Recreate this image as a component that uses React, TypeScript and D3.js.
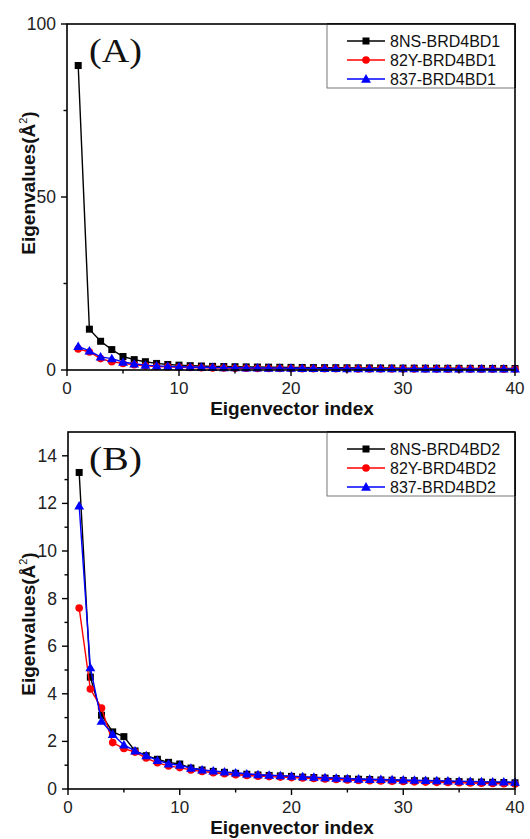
import React from "react";
import * as d3 from "d3";

const indices = d3.range(1, 41);

const seriesNamesA = ["8NS-BRD4BD1", "82Y-BRD4BD1", "837-BRD4BD1"];
const seriesNamesB = ["8NS-BRD4BD2", "82Y-BRD4BD2", "837-BRD4BD2"];

const blackA = [88, 11.8, 8.3, 5.9, 3.9, 3.0, 2.4, 1.9, 1.6, 1.4, 1.25, 1.15, 1.05, 1.0, 0.95, 0.9, 0.85, 0.82, 0.79, 0.76, 0.73, 0.7, 0.68, 0.66, 0.64, 0.62, 0.6, 0.58, 0.57, 0.55, 0.54, 0.53, 0.52, 0.5, 0.49, 0.48, 0.47, 0.46, 0.45, 0.44];
const redA = [6.1, 5.2, 3.3, 2.4, 1.9, 1.5, 1.2, 1.0, 0.9, 0.8, 0.72, 0.66, 0.6, 0.56, 0.52, 0.49, 0.46, 0.44, 0.42, 0.4, 0.38, 0.37, 0.35, 0.34, 0.33, 0.32, 0.31, 0.3, 0.29, 0.28, 0.27, 0.27, 0.26, 0.25, 0.25, 0.24, 0.23, 0.23, 0.22, 0.22];
const blueA = [6.8, 5.5, 3.8, 3.3, 2.3, 1.8, 1.4, 1.2, 1.05, 0.95, 0.86, 0.8, 0.74, 0.7, 0.66, 0.62, 0.59, 0.56, 0.54, 0.52, 0.5, 0.48, 0.46, 0.45, 0.43, 0.42, 0.41, 0.4, 0.39, 0.38, 0.37, 0.36, 0.35, 0.34, 0.33, 0.33, 0.32, 0.31, 0.31, 0.3];

const blackB = [13.3, 4.7, 3.1, 2.4, 2.2, 1.6, 1.4, 1.25, 1.12, 1.05, 0.88, 0.8, 0.74, 0.7, 0.66, 0.62, 0.59, 0.57, 0.55, 0.53, 0.5, 0.48, 0.46, 0.44, 0.43, 0.41, 0.4, 0.38, 0.37, 0.36, 0.35, 0.34, 0.33, 0.32, 0.31, 0.3, 0.29, 0.28, 0.27, 0.26];
const redB = [7.6, 4.2, 3.4, 1.95, 1.7, 1.55, 1.3, 1.1, 0.97, 0.9, 0.8, 0.74, 0.68, 0.64, 0.6, 0.57, 0.54, 0.52, 0.5, 0.48, 0.46, 0.44, 0.42, 0.4, 0.38, 0.36, 0.35, 0.34, 0.33, 0.32, 0.3, 0.29, 0.28, 0.27, 0.26, 0.25, 0.24, 0.23, 0.22, 0.21];
const blueB = [11.9, 5.1, 2.85, 2.3, 1.85, 1.6, 1.4, 1.2, 1.06, 1.0, 0.88, 0.8, 0.76, 0.72, 0.68, 0.64, 0.6, 0.58, 0.56, 0.54, 0.52, 0.5, 0.48, 0.46, 0.44, 0.42, 0.41, 0.4, 0.39, 0.38, 0.37, 0.36, 0.35, 0.34, 0.33, 0.32, 0.31, 0.3, 0.3, 0.29];

const xTicks = [0, 10, 20, 30, 40];
const xMinor = [5, 15, 25, 35];
const yTicksA = [0, 50, 100];
const yMinorA = [25, 75];
const yTicksB = [0, 2, 4, 6, 8, 10, 12, 14];
const yMinorB = [1, 3, 5, 7, 9, 11, 13];

const colors = ["#000000", "#ff0000", "#0000ff"];
const shapes = ["square", "circle", "triangle"];

const FONT = "Arial, 'Liberation Sans', sans-serif";

function Marker({ shape, x, y, color }: { shape: string; x: number; y: number; color: string }) {
  if (shape === "square") return <rect x={x - 3.5} y={y - 3.5} width={7} height={7} fill={color} />;
  if (shape === "circle") return <circle cx={x} cy={y} r={3.8} fill={color} />;
  const sym = d3.symbol().type(d3.symbolTriangle).size(42)();
  return <path d={sym as string} transform={`translate(${x},${y + 0.8})`} fill={color} />;
}

function Panel({ left, right, top, bottom, yMax, yTicks, yMinor, data, names, label, yTitleCenter }: any) {
  const x = d3.scaleLinear().domain([0, 40]).range([left, right]);
  const y = d3.scaleLinear().domain([0, yMax]).range([bottom, top]);
  const line = d3.line<number>().x((_, i) => x(indices[i])).y((d) => y(d));
  const legX = 327;
  const legW = right - legX;
  const legH = 64;
  return (
    <g>
      {data.map((vals: number[], s: number) => (
        <g key={s}>
          <path d={line(vals) as string} fill="none" stroke={colors[s]} strokeWidth={1.4} />
          {vals.map((v, i) => (
            <Marker key={i} shape={shapes[s]} x={x(indices[i])} y={y(v)} color={colors[s]} />
          ))}
        </g>
      ))}
      <rect x={left} y={top} width={right - left} height={bottom - top} fill="none" stroke="#000" strokeWidth={1.6} />
      {xTicks.map((t) => (
        <g key={t}>
          <line x1={x(t)} x2={x(t)} y1={bottom} y2={bottom + 6} stroke="#000" strokeWidth={1.4} />
          <text x={x(t)} y={bottom + 24} textAnchor="middle" fontFamily={FONT} fontSize={17} fill="#222">{t}</text>
        </g>
      ))}
      {xMinor.map((t) => (
        <line key={t} x1={x(t)} x2={x(t)} y1={bottom} y2={bottom + 3.5} stroke="#000" strokeWidth={1.4} />
      ))}
      {yTicks.map((t: number) => (
        <g key={t}>
          <line x1={left - 6} x2={left} y1={y(t)} y2={y(t)} stroke="#000" strokeWidth={1.4} />
          <text x={left - 11} y={y(t) + 6} textAnchor="end" fontFamily={FONT} fontSize={17.5} fill="#222">{t}</text>
        </g>
      ))}
      {yMinor.map((t: number) => (
        <line key={t} x1={left - 3.5} x2={left} y1={y(t)} y2={y(t)} stroke="#000" strokeWidth={1.4} />
      ))}
      <text x={292} y={bottom + 44.5} textAnchor="middle" fontFamily={FONT} fontSize={19} fontWeight="bold" fill="#111">Eigenvector index</text>
      <text transform={`translate(35,${yTitleCenter}) rotate(-90)`} textAnchor="middle" fontFamily={FONT} fontSize={19} fontWeight="bold" fill="#111">
        Eigenvalues(Å<tspan dy={-8} fontSize={11} fontWeight="normal">2</tspan><tspan dy={8}>)</tspan>
      </text>
      <text x={89} y={top + 38} fontFamily="'Liberation Serif', 'Times New Roman', serif" fontSize={34} fill="#111"
        textLength={53} lengthAdjust="spacingAndGlyphs">{label}</text>
      <rect x={legX} y={top} width={legW} height={legH} fill="#fff" stroke="#555" strokeWidth={0.8} />
      {names.map((n: string, i: number) => {
        const ly = top + 17 + i * 19;
        return (
          <g key={n}>
            <line x1={347} x2={385} y1={ly} y2={ly} stroke={colors[i]} strokeWidth={1.4} />
            <Marker shape={shapes[i]} x={366} y={ly} color={colors[i]} />
            <text x={390} y={ly + 6} fontFamily={FONT} fontSize={16} fill="#111">{n}</text>
          </g>
        );
      })}
      <line x1={right} x2={right} y1={top} y2={top + legH} stroke="#000" strokeWidth={1.6} />
      <line x1={legX} x2={right} y1={top} y2={top} stroke="#000" strokeWidth={1.6} />
    </g>
  );
}

export default function App() {
  return (
    <svg width={530} height={839} style={{ position: "absolute", left: 0, top: 0, background: "#fff" }}>
      <rect width={530} height={839} fill="#fff" />
      <Panel left={67} right={515} top={24} bottom={370} yMax={100} yTicks={yTicksA} yMinor={yMinorA}
        data={[blackA, redA, blueA]} names={seriesNamesA} label="(A)" yTitleCenter={183} />
      <Panel left={68} right={515} top={432} bottom={789} yMax={15} yTicks={yTicksB} yMinor={yMinorB}
        data={[blackB, redB, blueB]} names={seriesNamesB} label="(B)" yTitleCenter={624} />
    </svg>
  );
}
